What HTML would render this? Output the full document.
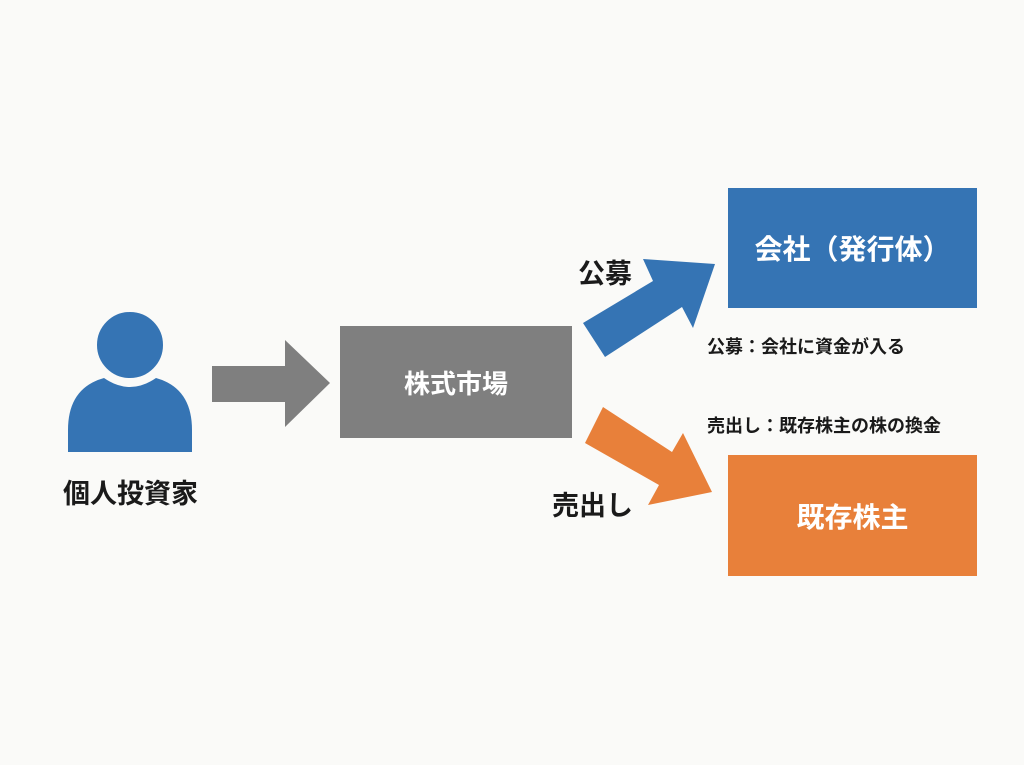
<!DOCTYPE html>
<html><head><meta charset="utf-8"><style>
html,body{margin:0;padding:0;background:#fafaf8;}
.wrap{position:relative;width:1024px;height:765px;overflow:hidden;font-family:"Liberation Sans","Noto Sans CJK JP",sans-serif;}
.t{position:absolute;white-space:nowrap;font-weight:bold;color:#1a1a1a;}
.box{position:absolute;display:flex;align-items:center;justify-content:center;color:#fff;font-weight:bold;}
</style></head><body><div class="wrap">
<svg width="1024" height="765" style="position:absolute;left:0;top:0">
  <path d="M68 452 L68 430 Q68 388 104 378 Q130 396 156 378 Q192 388 192 430 L192 452 Z" fill="#3574b4"/>
  <circle cx="130" cy="345" r="35" fill="#3574b4" stroke="#fafaf8" stroke-width="4"/>
  <polygon points="212,366 285,366 285,340 330,383 285,427 285,402 212,402" fill="#7f7f7f"/>
  <polygon points="583,323 653,281 643,259 715,264 693,328 682,307 605,357" fill="#3574b4"/>
  <polygon points="603,407 672,452 683,433 712,492 648,505 659,485 585,443" fill="#e8803a"/>
</svg>
<div class="box" style="left:340px;top:326px;width:232px;height:112px;background:#7f7f7f;font-size:26px;">株式市場</div>
<div class="box" style="left:728px;top:188px;width:249px;height:120px;background:#3574b4;font-size:28px;">会社（発行体）</div>
<div class="box" style="left:728px;top:455px;width:249px;height:121px;background:#e8803a;font-size:28px;">既存株主</div>
<div class="t" style="left:63px;top:472px;font-size:27px;">個人投資家</div>
<div class="t" style="left:578px;top:252px;font-size:27px;">公募</div>
<div class="t" style="left:552px;top:484px;font-size:27px;">売出し</div>
<div class="t" style="left:707px;top:333px;font-size:18px;">公募：会社に資金が入る</div>
<div class="t" style="left:707px;top:412px;font-size:18px;">売出し：既存株主の株の換金</div>
</div></body></html>
